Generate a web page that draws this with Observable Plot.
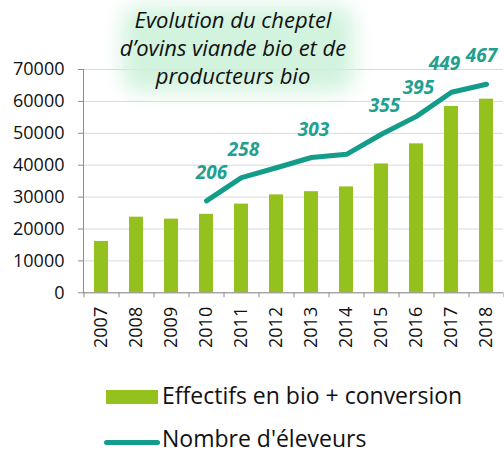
<!DOCTYPE html>
<html><head><meta charset="utf-8">
<script src="https://cdn.jsdelivr.net/npm/d3@7"></script>
<script src="https://cdn.jsdelivr.net/npm/@observablehq/plot@0.6"></script>
<style>
body{margin:0;background:#fff;font-family:"Open Sans",sans-serif;}
#wrap{position:relative;width:504px;height:454px;overflow:hidden;}
#glow{position:absolute;left:122px;top:6px;width:232px;height:86px;border-radius:18px;background:rgba(205,242,218,0.9);filter:blur(10px);}
#title{position:absolute;left:58px;top:5px;width:350px;text-align:center;font-style:italic;font-size:22px;line-height:28px;color:#111;}
.leg{position:absolute;font-size:23px;color:#111;white-space:nowrap;line-height:23px;}
</style></head>
<body><div id="wrap"><div id="chart"></div><div id="glow"></div>
<div id="title">Evolution du cheptel<br>d’ovins viande bio et de<br>producteurs bio</div>
<div class="leg" style="left:106px;top:390px;width:52px;height:14px;background:#95c11f;"></div>
<div class="leg" style="left:162px;top:384px;">Effectifs en bio + conversion</div>
<div class="leg" style="left:104px;top:440px;width:56px;height:5px;border-radius:3px;background:#139c8a;"></div>
<div class="leg" style="left:162px;top:427px;">Nombre d'éleveurs</div>
</div>
<script>
const years = ["2007","2008","2009","2010","2011","2012","2013","2014","2015","2016","2017","2018"];
const effectifs = [16100,23700,23100,24600,27800,30700,31700,33200,40400,46700,58400,60700];
const eleveurs = [null,null,null,206,258,280,303,310,355,395,449,467];
const labelYears = ["2010","2011","2013","2015","2016","2017","2018"];
const labelDx = [5,2,2,3,2,-7,-5];
const yTicks = [0,10000,20000,30000,40000,50000,60000,70000];

const ratio = 70000/500; // secondary axis 0..500
const bars = years.map((y,i)=>({year:y, v:effectifs[i]}));
const line = years.map((y,i)=>({year:y, n:eleveurs[i]})).filter(d=>d.n!=null);
const labs = line.filter(d=>labelYears.includes(d.year)).map(d=>({...d, dx: labelDx[labelYears.indexOf(d.year)]}));

const chart = Plot.plot({
  width:504, height:365,
  marginLeft:83, marginRight:1, marginTop:69, marginBottom:72.7,
  style:{fontFamily:"Open Sans, sans-serif", fontSize:"16px", color:"#111", overflow:"visible"},
  x:{domain:years, paddingInner:0.6, paddingOuter:0.3, align:0.5},
  y:{domain:[0,70000]},
  marks:[
    Plot.gridY(yTicks,{stroke:"#d9d9d9", strokeOpacity:1}),
    Plot.barY(bars,{x:"year", y:"v", fill:"#95c11f"}),
    Plot.line(line,{x:"year", y:d=>d.n*ratio, stroke:"#139c8a", strokeWidth:5, strokeLinecap:"round"}),
    ...labs.map(d=>Plot.text([d],{x:"year", y:dd=>dd.n*ratio, text:dd=>String(dd.n), dy:-28, dx:d.dx, fill:"#22a08e", fontWeight:"bold", fontStyle:"italic", fontSize:19})),
    Plot.ruleY([0],{stroke:"#8c8c8c"}),
    Plot.frame({anchor:"left", stroke:"#8c8c8c"}),
    Plot.axisY(yTicks,{tickSize:5, tickPadding:14, stroke:"#8c8c8c", tickFormat:d3.format("d"), label:null, fontSize:18, fill:"#111"}),
    Plot.axisX({tickSize:0, tickRotate:-90, tickPadding:14, label:null, fontSize:18, fill:"#111"}),
    Plot.axisX({tickSize:5, dx:-17.5, text:null, stroke:"#8c8c8c", label:null}),
    Plot.axisX(["2018"],{tickSize:5, dx:17.5, text:null, stroke:"#8c8c8c", label:null})
  ]
});
document.getElementById("chart").appendChild(chart);
</script></body></html>
